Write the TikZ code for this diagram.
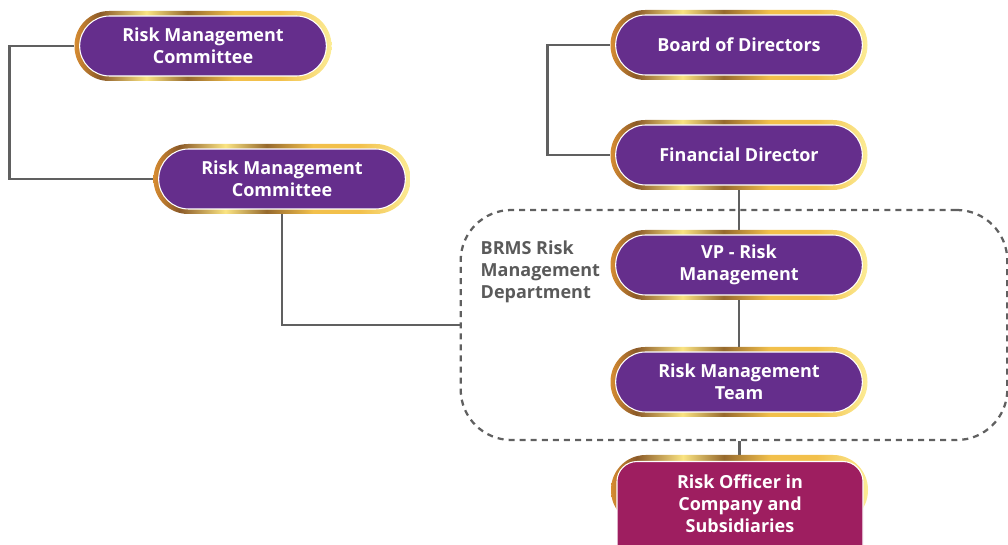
\documentclass[tikz,border=0pt]{standalone}
\usepackage{fontspec}
\setmainfont{Open Sans}
\usetikzlibrary{backgrounds}
\definecolor{rmPurple}{RGB}{101,46,140}
\definecolor{rmMagenta}{RGB}{158,30,96}
\definecolor{rmLine}{RGB}{96,96,96}
\definecolor{rmText}{RGB}{90,90,90}
\definecolor{goldA}{RGB}{139,90,40}
\definecolor{goldB}{RGB}{214,140,50}
\definecolor{goldC}{RGB}{250,228,130}
\definecolor{goldD}{RGB}{150,105,45}
\definecolor{goldE}{RGB}{242,192,75}
\definecolor{goldF}{RGB}{252,236,150}
% the path spans 25bp..75bp of the shading
\pgfdeclarehorizontalshading{goldband}{100bp}{%
  color(0bp)=(goldB); color(25bp)=(goldB); color(30bp)=(goldA); color(39bp)=(goldC);
  color(47bp)=(goldD); color(56bp)=(goldE); color(65bp)=(goldE);
  color(75bp)=(goldF); color(100bp)=(goldF)}
\tikzset{rmpanel/.style={
  x=0.75pt, y=-0.75pt,
  font=\bfseries\fontsize{13.5}{16.5}\selectfont,
  goldpill/.style={rounded corners=26pt, shading=goldband, draw=none,
    minimum width=192.75pt, minimum height=52.5pt, inner sep=0pt},
  rolebox/.style={rounded corners=22.5pt, fill=rmPurple, draw=white, line width=0.8pt,
    minimum width=185pt, minimum height=45pt, inner sep=0pt, text=white, align=center},
  link/.style={draw=rmLine, line width=1.9pt},
  region/.style={draw=rmLine, line width=1.7pt, dash pattern=on 4.5pt off 3.8pt,
    rounded corners=38pt, minimum width=410pt, minimum height=172.5pt, inner sep=0pt},
}}

\begin{document}
\begin{tikzpicture}[rmpanel,
  officerbox/.style={rounded corners=15pt, fill=rmMagenta, draw=white, line width=0.8pt,
    minimum width=184.5pt, minimum height=82pt, inner sep=0pt},
  officertext/.style={text=white, align=center},
  deptlab/.style={text=rmText, align=left, anchor=north west},
]
\clip (0,0) rectangle (1008,545);

% =====================================================================
% committees (left)
% =====================================================================
\node[goldpill] (rmcA) at (203,46) {};
\node[rolebox] (rmcAT) at (rmcA) {Risk Management\\Committee};
\node[goldpill] (rmcB) at (282,179) {};
\node[rolebox] (rmcBT) at (rmcB) {Risk Management\\Committee};

% =====================================================================
% board line (right)
% =====================================================================
\node[goldpill] (board) at (739,45) {};
\node[rolebox] (boardT) at (board) {Board of Directors};
\node[goldpill] (fin) at (739,155) {};
\node[rolebox] (finT) at (fin) {Financial Director};

% =====================================================================
% BRMS department
% =====================================================================
\node[region] (dept) at (734,325) {};
\node[deptlab] (deptT) at (476,236) {BRMS Risk\\Management\\Department};
\node[goldpill] (vp) at (739,265) {};
\node[rolebox] (vpT) at (vp) {VP - Risk\\Management};
\node[goldpill] (team) at (739,382) {};
\node[rolebox] (teamT) at (team) {Risk Management\\Team};

% =====================================================================
% risk officers
% =====================================================================
\node[goldpill] (officer) at (739.5,490) {};
\node[officerbox, anchor=north] (officerB) at (740,461) {};
\node[officertext] (officerT) at (740,504) {Risk Officer in\\Company and\\Subsidiaries};

\begin{scope}[on background layer]
  \draw[link] (rmcA.west) -- ++(-65,0) |- (rmcB.west);
  \draw[link] (rmcB.south) |- (dept.west);
  \draw[link] (board.west) -- ++(-63,0) |- (fin.west);
  \draw[link] (fin.south) -- (vp.north);
  \draw[link] (vp.south) -- (team.north);
  \draw[link] (officer.north) -- (officer.north |- dept.south);
\end{scope}

\end{tikzpicture}
\end{document}
